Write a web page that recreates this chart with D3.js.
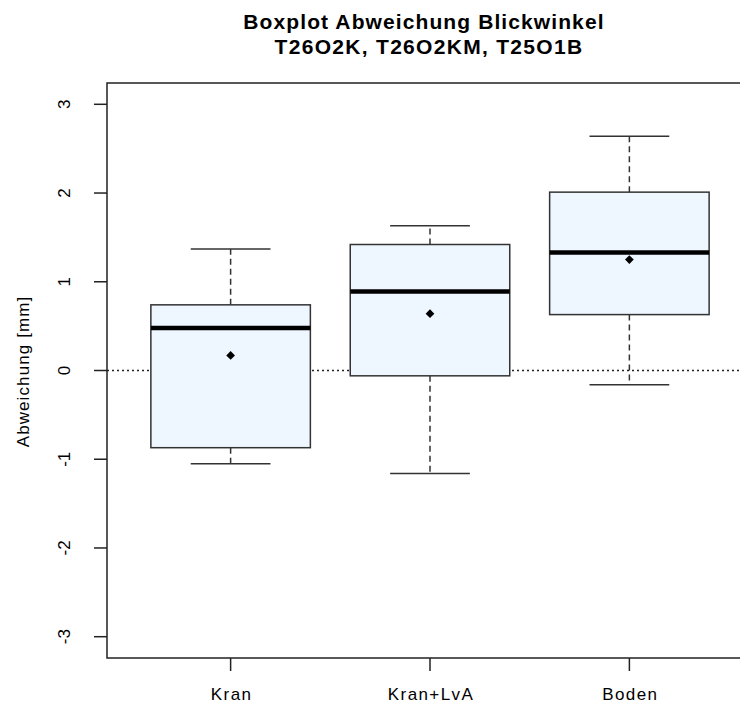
<!DOCTYPE html>
<html>
<head>
<meta charset="utf-8">
<script src="https://cdn.jsdelivr.net/npm/d3@7"></script>
<style>
    body { margin: 0; background: #ffffff; }
    text { font-family: "Liberation Sans", Arial, sans-serif; fill: #000; }
</style>
</head>
<body>
<div id="chart"></div>
<script>
let groups = ["Kran", "Kran+LvA", "Boden"]
let whiskerLow = [-1.05, -1.16, -0.16]
let q1 = [-0.87, -0.06, 0.63]
let medians = [0.48, 0.89, 1.33]
let q3 = [0.74, 1.42, 2.01]
let whiskerHigh = [1.37, 1.63, 2.64]
let means = [0.17, 0.64, 1.25]
let yTicks = [-3, -2, -1, 0, 1, 2, 3]

let titleLines = ["Boxplot Abweichung Blickwinkel", "T26O2K, T26O2KM, T25O1B"]
let yLabel = "Abweichung [mm]"

let W = 740, H = 706
// plot region like R: right side runs past the picture edge
let plotLeft = 107, plotRight = 753, plotTop = 83, plotBottom = 658

let svg = d3.select("#chart")
    .append("svg")
        .attr("width", W)
        .attr("height", H)

// R style: xlim 0.5..n+0.5 and ylim -3..3, both padded 4%
let xScale = d3.scaleLinear().domain([0.38, 3.62]).range([plotLeft, plotRight])
let yScale = d3.scaleLinear().domain([-3.24, 3.24]).range([plotBottom, plotTop])

let boxes = []
for (let i = 0; i < groups.length; i++){
    boxes.push({
        pos: i + 1, name: groups[i],
        lo: whiskerLow[i], q1: q1[i], med: medians[i],
        q3: q3[i], hi: whiskerHigh[i], mean: means[i]
    })
}

// zero line (dotted)
svg.append("line")
    .attr("x1", plotLeft).attr("x2", plotRight)
    .attr("y1", yScale(0)).attr("y2", yScale(0))
    .style("stroke", "#222")
    .style("stroke-width", 1.5)
    .style("stroke-dasharray", "2,3")

let g = svg.append("g")

boxes.forEach(function(d) {
    let cx = xScale(d.pos)
    let halfBox = xScale(d.pos + 0.4) - cx
    let halfStaple = xScale(d.pos + 0.2) - cx

    // whiskers
    g.append("line")
        .attr("x1", cx).attr("x2", cx)
        .attr("y1", yScale(d.q3)).attr("y2", yScale(d.hi))
        .style("stroke", "#333").style("stroke-width", 1.5)
        .style("stroke-dasharray", "6,4")
    g.append("line")
        .attr("x1", cx).attr("x2", cx)
        .attr("y1", yScale(d.q1)).attr("y2", yScale(d.lo))
        .style("stroke", "#333").style("stroke-width", 1.5)
        .style("stroke-dasharray", "6,4")

    // staples
    g.append("line")
        .attr("x1", cx - halfStaple).attr("x2", cx + halfStaple)
        .attr("y1", yScale(d.hi)).attr("y2", yScale(d.hi))
        .style("stroke", "#333").style("stroke-width", 1.5)
    g.append("line")
        .attr("x1", cx - halfStaple).attr("x2", cx + halfStaple)
        .attr("y1", yScale(d.lo)).attr("y2", yScale(d.lo))
        .style("stroke", "#333").style("stroke-width", 1.5)

    // box
    g.append("rect")
        .attr("x", cx - halfBox)
        .attr("y", yScale(d.q3))
        .attr("width", halfBox * 2)
        .attr("height", yScale(d.q1) - yScale(d.q3))
        .style("fill", "#eef6ff")
        .style("stroke", "#333")
        .style("stroke-width", 1.5)

    // median
    g.append("line")
        .attr("x1", cx - halfBox).attr("x2", cx + halfBox)
        .attr("y1", yScale(d.med)).attr("y2", yScale(d.med))
        .style("stroke", "#000").style("stroke-width", 4.5)

    // mean (filled diamond, R pch 18)
    g.append("path")
        .attr("d", d3.symbol().type(d3.symbolSquare).size(38)())
        .attr("transform", "translate(" + cx + "," + yScale(d.mean) + ")rotate(45)")
        .style("fill", "#000")
})

// frame (left, top, bottom; right is outside the picture)
svg.append("rect")
    .attr("x", plotLeft).attr("y", plotTop)
    .attr("width", plotRight - plotLeft)
    .attr("height", plotBottom - plotTop)
    .style("fill", "none")
    .style("stroke", "#222")
    .style("stroke-width", 1.5)

// y axis
let yAxis = svg.append("g")
yTicks.forEach(function(t) {
    yAxis.append("line")
        .attr("x1", plotLeft - 13).attr("x2", plotLeft)
        .attr("y1", yScale(t)).attr("y2", yScale(t))
        .style("stroke", "#222").style("stroke-width", 1.5)
    yAxis.append("text")
        .attr("transform", "translate(70," + yScale(t) + ")rotate(-90)")
        .attr("text-anchor", "middle")
        .style("font-size", "17px")
        .text(t)
})

// x axis
let xAxis = svg.append("g")
boxes.forEach(function(d) {
    xAxis.append("line")
        .attr("x1", xScale(d.pos)).attr("x2", xScale(d.pos))
        .attr("y1", plotBottom).attr("y2", plotBottom + 13)
        .style("stroke", "#222").style("stroke-width", 1.5)
    xAxis.append("text")
        .attr("x", xScale(d.pos) + 1).attr("y", 700)
        .attr("text-anchor", "middle")
        .style("font-size", "17px")
        .style("letter-spacing", "1.4px")
        .text(d.name)
})

// y label
svg.append("text")
    .attr("transform", "translate(29," + (yScale(0) + 1) + ")rotate(-90)")
    .attr("text-anchor", "middle")
    .style("font-size", "17px")
    .style("letter-spacing", "1.1px")
    .text(yLabel)

// title
let titleX = (plotLeft + plotRight) / 2 - 6
svg.append("text")
    .attr("x", titleX).attr("y", 29)
    .attr("text-anchor", "middle")
    .style("font-size", "21px").style("font-weight", "bold")
    .style("letter-spacing", "1.1px")
    .text(titleLines[0])
svg.append("text")
    .attr("x", titleX + 5).attr("y", 54)
    .attr("text-anchor", "middle")
    .style("font-size", "21px").style("font-weight", "bold")
    .style("letter-spacing", "1.3px")
    .text(titleLines[1])
</script>
</body>
</html>
